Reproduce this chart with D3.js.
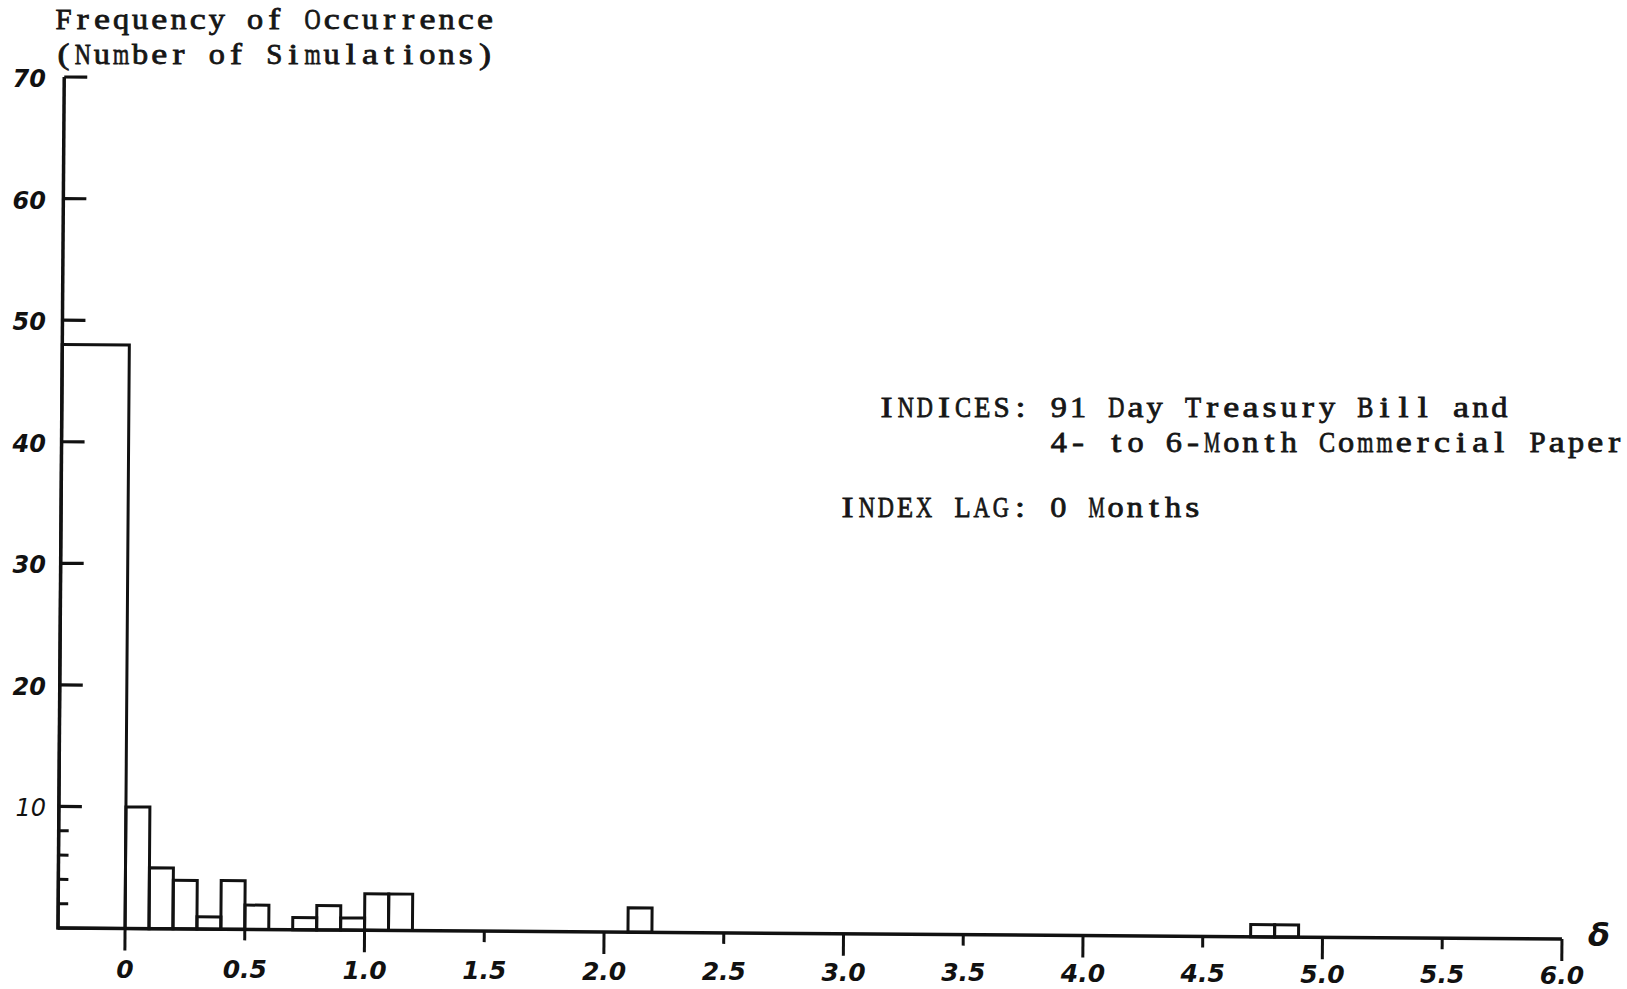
<!DOCTYPE html>
<html>
<head>
<meta charset="utf-8">
<script src="https://cdn.jsdelivr.net/npm/d3@7"></script>
<style>
  html, body { margin: 0; padding: 0; background: #fff; }
  svg { display: block; }
  .typed { font-family: "Liberation Serif", "DejaVu Serif", serif; font-size: 30px; fill: #161616; stroke: #161616; stroke-width: 0.8px; }
  .tick-label { font-family: "DejaVu Sans", sans-serif; font-style: oblique; fill: #111; }
</style>
</head>
<body>
<div id="chart"></div>
<script>
// histogram bins: lower edge, upper edge, count (first bin runs from the axis to 0)
const binLo = [-0.28, 0.0, 0.1, 0.2, 0.3, 0.4, 0.5, 0.7, 0.8, 0.9, 1.0, 1.1, 2.1, 4.7, 4.8];
const binHi = [0.0, 0.1, 0.2, 0.3, 0.4, 0.5, 0.6, 0.8, 0.9, 1.0, 1.1, 1.2, 2.2, 4.8, 4.9];
const counts = [48, 10, 5, 4, 1, 4, 2, 1, 2, 1, 3, 3, 2, 1, 1];

const xMajorTicks = [0, 1, 2, 3, 4, 5, 6];
const xMinorTicks = [0.5, 1.5, 2.5, 3.5, 4.5, 5.5];
const xTickLabels = ['0', '0.5', '1.0', '1.5', '2.0', '2.5', '3.0', '3.5', '4.0', '4.5', '5.0', '5.5', '6.0'];
const xLabelValues = [0, 0.5, 1, 1.5, 2, 2.5, 3, 3.5, 4, 4.5, 5, 5.5, 6];
const yMajorTicks = [10, 20, 30, 40, 50, 60, 70];
const yMinorTicks = [2, 4, 6, 8];

const titleLines = ['Frequency of Occurrence', '(Number of Simulations)'];
const noteLines = [
  'INDICES: 91 Day Treasury Bill and',
  '         4- to 6-Month Commercial Paper',
  'INDEX LAG: 0 Months'
];

const width = 1627, height = 989;
const margin = { top: 77, right: 65, bottom: 61, left: 58 };

const svg = d3.select('#chart')
  .append('svg')
  .attr('width', width)
  .attr('height', height);

const x = d3.scaleLinear()
  .domain([binLo[0], 6])
  .range([margin.left, width - margin.right]);

const y = d3.scaleLinear()
  .domain([0, 70])
  .range([height - margin.bottom, margin.top]);

// the scanned plot sits slightly askew
const plot = svg.append('g')
  .attr('transform', `rotate(0.42, ${margin.left}, ${y(0)})`);

const bins = counts.map((c, i) => ({ x0: binLo[i], x1: binHi[i], count: c }));

plot.selectAll('.bar')
  .data(bins)
  .enter()
  .append('rect')
  .attr('class', 'bar')
  .attr('x', d => x(d.x0))
  .attr('y', d => y(d.count))
  .attr('width', d => x(d.x1) - x(d.x0))
  .attr('height', d => y(0) - y(d.count))
  .attr('fill', 'none')
  .attr('stroke', '#111')
  .attr('stroke-width', 3);

// axes drawn as plain lines, ticks inside on y and below on x
plot.append('line')
  .attr('x1', x.range()[0]).attr('x2', x.range()[1])
  .attr('y1', y(0)).attr('y2', y(0))
  .attr('stroke', '#111').attr('stroke-width', 3.5);

plot.append('line')
  .attr('x1', x.range()[0]).attr('x2', x.range()[0])
  .attr('y1', y(0) + 1.5).attr('y2', y(70))
  .attr('stroke', '#111').attr('stroke-width', 3.5);

plot.selectAll('.ymajor')
  .data(yMajorTicks)
  .enter()
  .append('line')
  .attr('x1', x.range()[0]).attr('x2', x.range()[0] + 23)
  .attr('y1', d => y(d)).attr('y2', d => y(d))
  .attr('stroke', '#111').attr('stroke-width', 3.2);

plot.selectAll('.yminor')
  .data(yMinorTicks)
  .enter()
  .append('line')
  .attr('x1', x.range()[0]).attr('x2', x.range()[0] + 10)
  .attr('y1', d => y(d)).attr('y2', d => y(d))
  .attr('stroke', '#111').attr('stroke-width', 3);

plot.selectAll('.xmajor')
  .data(xMajorTicks)
  .enter()
  .append('line')
  .attr('x1', d => x(d)).attr('x2', d => x(d))
  .attr('y1', y(0)).attr('y2', y(0) + 22)
  .attr('stroke', '#111').attr('stroke-width', 3);

plot.selectAll('.xminor')
  .data(xMinorTicks)
  .enter()
  .append('line')
  .attr('x1', d => x(d)).attr('x2', d => x(d))
  .attr('y1', y(0)).attr('y2', y(0) + 11)
  .attr('stroke', '#111').attr('stroke-width', 3);

// hand-lettered tick labels
svg.selectAll('.xlabel')
  .data(xLabelValues)
  .enter()
  .append('text')
  .attr('class', 'tick-label')
  .attr('x', d => x(d))
  .attr('y', d => 978 + (x(d) - x(0)) * 0.004)
  .attr('text-anchor', 'middle')
  .attr('font-size', 25)
  .attr('font-weight', 'bold')
  .text((d, i) => xTickLabels[i]);

svg.selectAll('.ylabel')
  .data(yMajorTicks)
  .enter()
  .append('text')
  .attr('class', 'tick-label')
  .attr('x', 46)
  .attr('y', d => y(d) + 10)
  .attr('text-anchor', 'end')
  .attr('font-size', 24)
  .attr('font-weight', d => d === 10 ? 'normal' : 'bold')
  .text(d => d);

svg.append('text')
  .attr('class', 'tick-label')
  .attr('x', 1599)
  .attr('y', 946)
  .attr('text-anchor', 'middle')
  .attr('font-size', 32)
  .attr('font-weight', 'bold')
  .text('δ');

// typewriter: one glyph per fixed-width cell, widened or squeezed to fill it
const pitch = 19.15;
function typeLine(line, x0, yBase) {
  const g = svg.append('g').attr('class', 'typed-line');
  line.split('').forEach((ch, i) => {
    if (ch === ' ') return;
    const cell = g.append('g')
      .attr('transform', `translate(${x0 + (i + 0.5) * pitch},${yBase})`);
    const t = cell.append('text')
      .attr('class', 'typed')
      .attr('text-anchor', 'middle')
      .text(ch);
    const w = t.node().getComputedTextLength();
    const target = Math.min(w * 1.2, pitch - 3);
    t.attr('transform', `scale(${(target / w).toFixed(3)},1)`);
  });
}

titleLines.forEach((line, i) => typeLine(line, 54, 29 + i * 35));
const noteBases = [417, 452, 517];
typeLine(noteLines[0], 877, noteBases[0]);
typeLine(noteLines[1], 877, noteBases[1]);
typeLine(noteLines[2], 838, noteBases[2]);
</script>
</body>
</html>
